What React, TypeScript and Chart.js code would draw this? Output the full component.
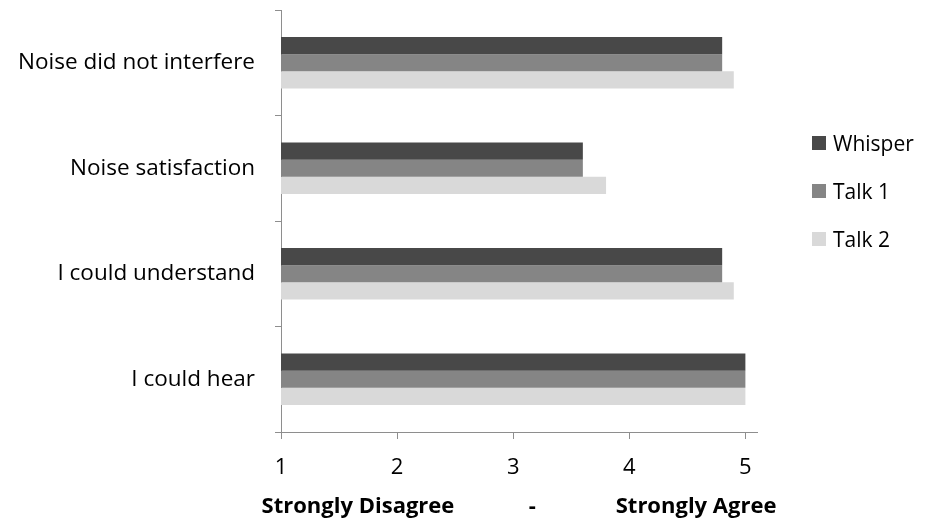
import React, { useEffect, useRef } from 'react';
import { Chart, registerables } from 'chart.js';

Chart.register(...registerables);

const categories = ['Noise did not interfere', 'Noise satisfaction', 'I could understand', 'I could hear'];
const whisperValues = [4.8, 3.6, 4.8, 5.0];
const talk1Values = [4.8, 3.6, 4.8, 5.0];
const talk2Values = [4.9, 3.8, 4.9, 5.0];
const seriesNames = ['Whisper', 'Talk 1', 'Talk 2'];
const seriesColors = ['#484848', '#858585', '#d9d9d9'];
const xTickValues = [1, 2, 3, 4, 5];
const xMin = 1;
const xMax = 5.1;
const axisTitle = 'Strongly Disagree' + '\u00a0'.repeat(13) + '-' + '\u00a0'.repeat(14) + 'Strongly Agree';

const FONT = '"Open Sans", "Liberation Sans", sans-serif';
const AXIS_COLOR = '#8e8e8e';

// Draws the x-axis title under the axis without Chart.js' max-width squeeze.
const axisTitlePlugin = {
  id: 'wideAxisTitle',
  afterDraw(chart: any) {
    const { ctx, chartArea } = chart;
    ctx.save();
    ctx.font = `bold 22px ${FONT}`;
    ctx.fillStyle = '#000';
    ctx.textAlign = 'center';
    ctx.textBaseline = 'middle';
    ctx.fillText(axisTitle, (chartArea.left + chartArea.right) / 2, chart.height - 15);
    ctx.restore();
  },
};

export default function App() {
  const canvasRef = useRef<HTMLCanvasElement | null>(null);

  useEffect(() => {
    if (!canvasRef.current) return;
    const seriesValues = [whisperValues, talk1Values, talk2Values];
    const chart = new Chart(canvasRef.current, {
      type: 'bar',
      data: {
        labels: categories,
        datasets: seriesNames.map((name, i) => ({
          label: name,
          data: seriesValues[i],
          backgroundColor: seriesColors[i],
          borderWidth: 0,
          barPercentage: 1,
          categoryPercentage: 0.486,
        })),
      },
      plugins: [axisTitlePlugin],
      options: {
        indexAxis: 'y',
        animation: false,
        responsive: true,
        maintainAspectRatio: false,
        layout: { padding: { top: 10, right: 169, bottom: 0, left: 0 } },
        plugins: {
          legend: { display: false },
          tooltip: { enabled: false },
        },
        scales: {
          x: {
            type: 'linear',
            min: xMin,
            max: xMax,
            afterBuildTicks: (s: any) => {
              s.ticks = xTickValues.map((v) => ({ value: v }));
            },
            afterFit: (s: any) => {
              s.height = 90;
            },
            grid: {
              display: true,
              drawOnChartArea: false,
              drawTicks: true,
              tickLength: 7,
              color: AXIS_COLOR,
            },
            border: { display: true, color: AXIS_COLOR },
            ticks: {
              color: '#000',
              padding: 16,
              font: { family: FONT, size: 22 },
            },
            title: { display: false },
          },
          y: {
            type: 'category',
            afterFit: (s: any) => {
              s.width = 281;
              s.paddingTop = 0;
              s.paddingBottom = 0;
            },
            grid: {
              display: true,
              offset: true,
              drawOnChartArea: false,
              drawTicks: true,
              tickLength: 6,
              color: AXIS_COLOR,
            },
            border: { display: true, color: AXIS_COLOR },
            ticks: {
              color: '#000',
              padding: 20,
              font: { family: FONT, size: 22.5 },
            },
          },
        },
      },
    });
    return () => chart.destroy();
  }, []);

  const legendTops = [143, 191, 239];

  return (
    <div style={{ position: 'fixed', left: 0, top: 0, width: 926, height: 522, background: '#fff' }}>
      <canvas ref={canvasRef} />
      {seriesNames.map((name, i) => (
        <div
          key={name}
          style={{
            position: 'absolute',
            left: 812,
            top: legendTops[i] - 13,
            height: 26,
            display: 'flex',
            alignItems: 'center',
            fontFamily: FONT,
            fontSize: 21,
            color: '#000',
            whiteSpace: 'nowrap',
          }}
        >
          <span style={{ display: 'inline-block', width: 14, height: 14, background: seriesColors[i], marginRight: 7 }} />
          {name}
        </div>
      ))}
    </div>
  );
}
